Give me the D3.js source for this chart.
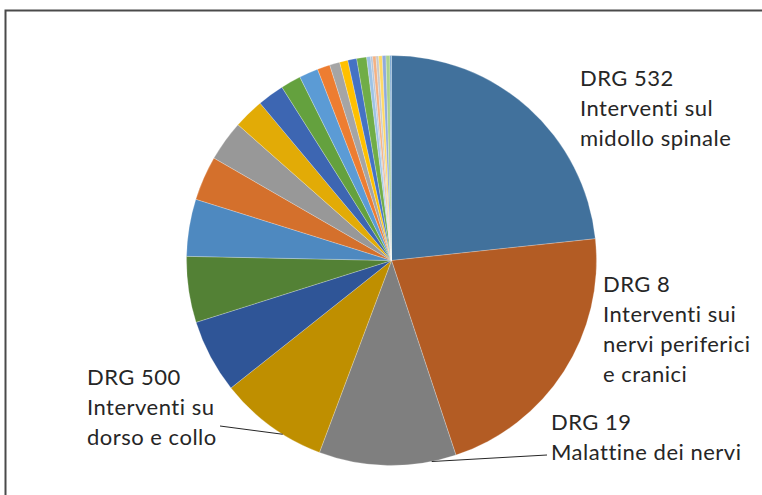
<!DOCTYPE html>
<html>
<head>
<meta charset="utf-8">
<script src="https://cdn.jsdelivr.net/npm/d3@7"></script>
<style>
  html, body { margin: 0; padding: 0; background: #fff; }
  svg { display: block; }
  text { font-variant-ligatures: none; font-feature-settings: "liga" 0; }
</style>
</head>
<body>
<svg id="chart" width="762" height="495"></svg>
<script>
// DRG shares (%) in drawing order, clockwise from 12 o'clock
const categories = [
  "DRG 532", "DRG 8", "DRG 19", "DRG 500", "DRG 5", "DRG 6", "DRG 7", "DRG 9",
  "DRG 10", "DRG 11", "DRG 12", "DRG 13", "DRG 14", "DRG 15", "DRG 16", "DRG 17",
  "DRG 18", "DRG 20", "DRG 21", "DRG 22", "DRG 23", "DRG 24", "DRG 25", "DRG 26", "DRG 27", "DRG 28"
];
const values = [
  23.3, 21.6, 10.8, 8.6, 5.8, 5.2, 4.5, 3.5,
  3.2, 2.4, 2.1, 1.6, 1.5, 1.0, 0.8, 0.65,
  0.7, 0.78, 0.31, 0.16, 0.26, 0.21, 0.28, 0.29, 0.31, 0.12
];
const colors = [
  "#41719c", "#b35c24", "#7f7f7f", "#bf8f00", "#2f5597", "#538135", "#4e89c0", "#d4702c",
  "#989898", "#e2ab06", "#3d66b2", "#64a13e", "#5b9bd5", "#ed7d31", "#a5a5a5", "#ffc000",
  "#4472c4", "#70ad47", "#9dc3e6", "#b8c4d6", "#f4b183", "#c9c9c9", "#ffd966", "#8faadc", "#a9d18e", "#6f9fcf"
];

// Callout labels: slice index, text lines, text anchor, optional leader line
const labelSlices = [0, 1, 2, 3];
const labelLines = [
  ["DRG 532", "Interventi sul", "midollo spinale"],
  ["DRG 8", "Interventi sui", "nervi periferici", "e cranici"],
  ["DRG 19", "Malattine dei nervi"],
  ["DRG 500", "Interventi su", "dorso e collo"]
];
const labelAnchors = [[580, 86], [603, 292], [551, 430], [87, 385]];
// leader: [fraction along the slice's arc, end x, end y] or null
const labelLeaders = [null, null, [0.18, 547, 455], [0.37, 220, 426]];

const svg = d3.select("#chart");
const W = 762, H = 495;
const cx = 391.5, cy = 260.5, R = 205;

// chart frame (top and left edges visible)
svg.append("path")
  .attr("d", `M5.5,${H} L5.5,10.5 L${W},10.5`)
  .attr("fill", "none")
  .attr("stroke", "#4a4a4a")
  .attr("stroke-width", 2);

const pie = d3.pie().sort(null).value(d => d).startAngle(0).endAngle(2 * Math.PI);
const arcs = pie(values);
const arc = d3.arc().innerRadius(0).outerRadius(R);

const g = svg.append("g").attr("transform", `translate(${cx},${cy})`);
g.selectAll("path.slice")
  .data(arcs)
  .join("path")
  .attr("class", "slice")
  .attr("d", arc)
  .attr("fill", (d, i) => colors[i])
  .attr("stroke", "#ffffff")
  .attr("stroke-opacity", 0.4)
  .attr("stroke-width", 0.6);

// leader lines
labelSlices.forEach((si, k) => {
  const ld = labelLeaders[k];
  if (!ld) return;
  const a = arcs[si];
  const ang = a.startAngle + (a.endAngle - a.startAngle) * ld[0];
  const x0 = cx + R * Math.sin(ang), y0 = cy - R * Math.cos(ang);
  svg.append("line")
    .attr("x1", x0).attr("y1", y0)
    .attr("x2", ld[1]).attr("y2", ld[2])
    .attr("stroke", "#262626")
    .attr("stroke-width", 1);
});

// label text
labelSlices.forEach((si, k) => {
  const t = svg.append("text")
    .attr("x", labelAnchors[k][0])
    .attr("y", labelAnchors[k][1])
    .attr("font-family", "Lato, 'Open Sans', sans-serif")
    .attr("font-size", 22)
    .attr("letter-spacing", 0.5)
    .attr("fill", "#262626");
  labelLines[k].forEach((ln, j) => {
    t.append("tspan")
      .attr("x", labelAnchors[k][0])
      .attr("dy", j === 0 ? 0 : 30)
      .text(ln);
  });
});
</script>
</body>
</html>
